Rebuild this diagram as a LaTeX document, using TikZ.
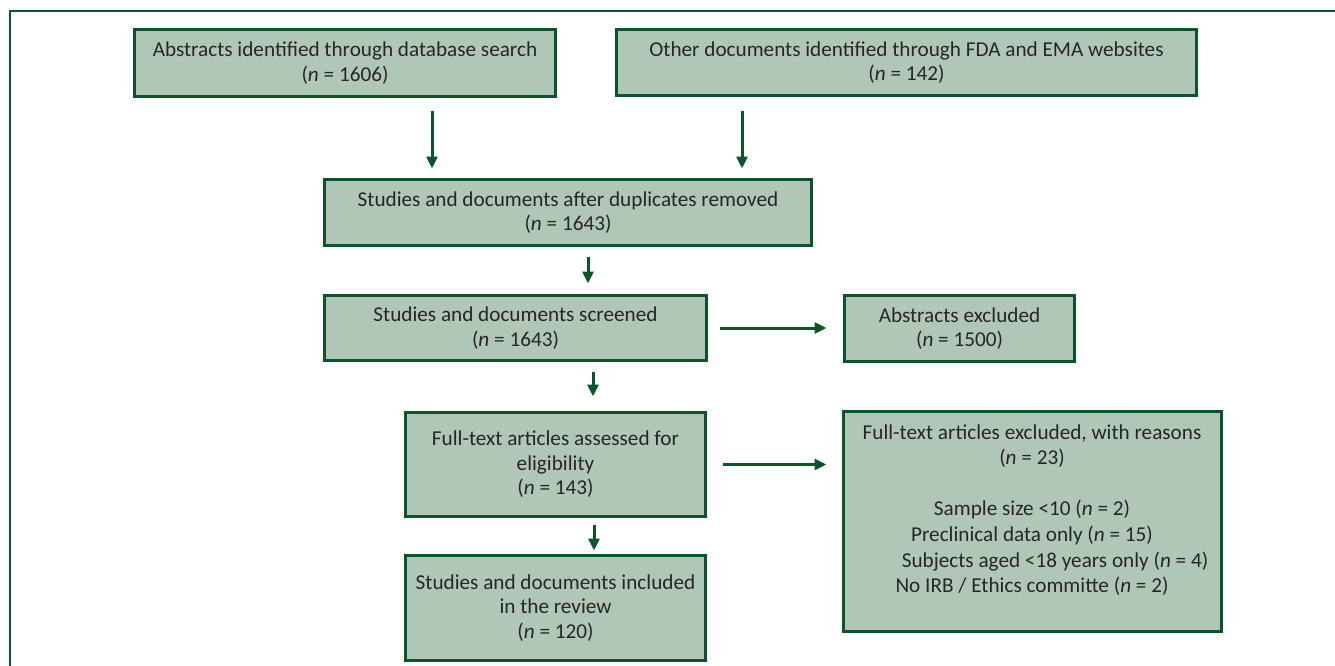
\documentclass[tikz,border=0pt]{standalone}
\usepackage{fontspec}
\setmainfont{Carlito}
\usetikzlibrary{arrows.meta}
\definecolor{boxfill}{RGB}{176,199,183}
\definecolor{dgreen}{RGB}{12,85,42}
\definecolor{txtc}{RGB}{38,38,38}
\begin{document}
\begin{tikzpicture}[x=1pt,y=-1pt,
  box/.style={draw=dgreen, line width=3pt, fill=boxfill, text=txtc, align=center, inner sep=0pt, font=\fontsize{21.2}{24.5}\selectfont},
  txt/.style={text=txtc, align=center, inner sep=0pt, font=\fontsize{21.2}{25.6}\selectfont},
  arr/.style={draw=dgreen, line width=3pt, -{Triangle[length=12pt,width=11pt]}},
  frame/.style={draw=dgreen, line width=2.5pt}
]
\useasboundingbox (0,0) rectangle (1335,666);
\draw[frame] (10,675) -- (10,11) -- (1345,11);

\node[box, minimum width=421pt, minimum height=67pt] (A) at (345,63) {Abstracts identified through database search\\(\textit{n} = 1606)};
\node[box, minimum width=580pt, minimum height=66pt] (B) at (906.5,62.5) {Other documents identified through FDA and EMA websites\\(\textit{n} = 142)};
\node[box, minimum width=487pt, minimum height=66pt] (C) at (568,212.5) {Studies and documents after duplicates removed\\(\textit{n} = 1643)};
\node[box, minimum width=382pt, minimum height=65pt] (D) at (515.5,328) {Studies and documents screened\\(\textit{n} = 1643)};
\node[box, minimum width=230pt, minimum height=66pt] (E) at (959.5,328.5) {Abstracts excluded\\(\textit{n} = 1500)};
\node[box, minimum width=300pt, minimum height=104pt] (F) at (555.5,464.5) {Full-text articles assessed for\\eligibility\\(\textit{n} = 143)};
\node[box, minimum width=378pt, minimum height=220pt] (G) at (1032.5,521.5) {};
\node[txt] (Gt) at (1032,510) {Full-text articles excluded, with reasons\\(\textit{n} = 23)\\[25.6pt]
Sample size <10 (\textit{n} = 2)\hspace*{6pt}\\
Preclinical data only (\textit{n} = 15)\\
\hspace*{46pt}Subjects aged <18 years only (\textit{n} = 4)\\
No IRB / Ethics committe (\textit{n} = 2)};
\node[box, minimum width=300pt, minimum height=105pt] (H) at (555.5,608) {Studies and documents included\\in the review\\(\textit{n} = 120)};

\draw[arr, shorten <=13.5pt, shorten >=9.5pt] ([xshift=87pt]A.south) -- ([xshift=87pt]A.south |- C.north);
\draw[arr, shorten <=14.5pt, shorten >=9.5pt] ([xshift=-164.5pt]B.south) -- ([xshift=-164.5pt]B.south |- C.north);
\draw[arr, shorten <=9.5pt, shorten >=10.5pt] ([xshift=20pt]C.south) -- ([xshift=20pt]C.south |- D.north);
\draw[arr, shorten <=9.5pt, shorten >=14.5pt] ([xshift=77.5pt]D.south) -- ([xshift=77.5pt]D.south |- F.north);
\draw[arr, shorten <=6.5pt, shorten >=3.5pt] ([xshift=38.5pt]F.south) -- ([xshift=38.5pt]F.south |- H.north);
\draw[arr, shorten <=11.5pt, shorten >=16.5pt] (D.east) -- (D.east -| E.west);
\draw[arr, shorten <=15.5pt, shorten >=15.5pt] (F.east) -- (F.east -| G.west);
\end{tikzpicture}
\end{document}
